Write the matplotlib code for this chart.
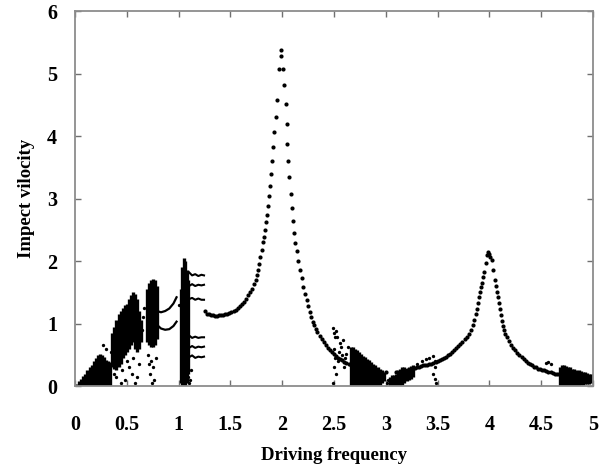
import matplotlib
matplotlib.use('Agg')
import matplotlib.pyplot as plt

# main periodic-response curve (driving frequency, impact velocity)
curve_f = [1.25, 1.27, 1.29, 1.31, 1.33, 1.35, 1.37, 1.39, 1.41, 1.43, 1.45, 1.47, 1.49,
           1.51, 1.53, 1.55, 1.57, 1.59, 1.61, 1.63, 1.65, 1.67, 1.69, 1.71, 1.73, 1.745,
           1.76, 1.77, 1.78, 1.79, 1.80, 1.81, 1.82, 1.83, 1.84, 1.85, 1.86, 1.87, 1.88,
           1.89, 1.90, 1.915, 1.925, 1.94, 1.95, 1.97, 1.99, 1.99,
           2.01, 2.02, 2.04, 2.045, 2.05, 2.055, 2.07, 2.08, 2.09, 2.10, 2.11, 2.125, 2.14,
           2.155, 2.17, 2.19, 2.205, 2.22, 2.235, 2.25, 2.265, 2.28, 2.295, 2.31, 2.325,
           2.34, 2.36, 2.38, 2.40, 2.42, 2.44, 2.46, 2.48, 2.50, 2.52, 2.54, 2.56, 2.58,
           2.60, 2.62, 2.64, 2.66, 2.70, 2.80, 2.90, 3.00, 3.10, 3.20,
           3.28, 3.30, 3.32, 3.34, 3.36, 3.38, 3.40, 3.42, 3.44, 3.46, 3.48, 3.50, 3.52,
           3.54, 3.56, 3.58, 3.60, 3.62, 3.64, 3.66, 3.68, 3.70, 3.72, 3.74, 3.76, 3.78,
           3.80, 3.82, 3.84, 3.855, 3.87, 3.88, 3.89, 3.90, 3.91, 3.92, 3.93, 3.94, 3.95,
           3.965, 3.98, 3.99, 4.00, 4.01, 4.02, 4.035, 4.05, 4.06, 4.07, 4.08, 4.09, 4.10,
           4.11, 4.12, 4.13, 4.14, 4.155, 4.17, 4.19, 4.21, 4.23, 4.25, 4.27, 4.29, 4.31,
           4.33, 4.35, 4.37, 4.39, 4.41, 4.43, 4.45, 4.47, 4.49, 4.51, 4.53, 4.55, 4.57,
           4.59, 4.61, 4.63, 4.65, 4.67, 4.69]
curve_v = [1.20, 1.16, 1.145, 1.135, 1.13, 1.125, 1.125, 1.13, 1.133, 1.14, 1.147, 1.157, 1.17,
           1.183, 1.20, 1.22, 1.247, 1.275, 1.31, 1.35, 1.40, 1.45, 1.50, 1.56, 1.63, 1.70,
           1.78, 1.86, 1.95, 2.06, 2.18, 2.30, 2.39, 2.50, 2.62, 2.74, 2.88, 3.04, 3.20,
           3.39, 3.60, 3.83, 4.07, 4.31, 4.58, 5.08, 5.28, 5.38,
           5.08, 4.82, 4.51, 4.19, 3.88, 3.60, 3.35, 3.07, 2.85, 2.64, 2.45, 2.29, 2.16,
           2.00, 1.86, 1.73, 1.59, 1.48, 1.38, 1.28, 1.19, 1.11, 1.03, 0.97, 0.91,
           0.86, 0.80, 0.75, 0.70, 0.65, 0.61, 0.57, 0.54, 0.51, 0.48, 0.45, 0.43, 0.41,
           0.39, 0.37, 0.35, 0.34, 0.31, 0.27, 0.24, 0.22, 0.23, 0.26,
           0.29, 0.30, 0.31, 0.32, 0.33, 0.335, 0.34, 0.35, 0.36, 0.37, 0.385, 0.40, 0.415,
           0.43, 0.45, 0.47, 0.495, 0.52, 0.545, 0.575, 0.61, 0.64, 0.67, 0.71, 0.75, 0.79,
           0.84, 0.90, 0.98, 1.05, 1.15, 1.24, 1.33, 1.42, 1.50, 1.58, 1.65, 1.74, 1.83,
           1.97, 2.10, 2.15, 2.12, 2.07, 2.02, 1.85, 1.70, 1.60, 1.50, 1.42, 1.33, 1.23,
           1.13, 1.04, 0.96, 0.90, 0.84, 0.78, 0.72, 0.66, 0.61, 0.57, 0.53, 0.49, 0.46,
           0.43, 0.40, 0.37, 0.35, 0.33, 0.31, 0.30, 0.28, 0.27, 0.26, 0.25, 0.24, 0.23,
           0.22, 0.21, 0.20, 0.195, 0.19, 0.18]

# dense (chaotic) bands: frequency, lowest and highest velocity
band_f = [0.02, 0.04, 0.06, 0.08, 0.10, 0.12, 0.14, 0.16, 0.18, 0.20, 0.22, 0.24, 0.26,
          0.28, 0.30, 0.32, 0.34,
          0.36, 0.38, 0.40, 0.42, 0.44, 0.46, 0.48, 0.50, 0.52, 0.54, 0.56, 0.58, 0.60,
          0.62, 0.64,
          0.69, 0.71, 0.73, 0.75, 0.77, 0.79,
          1.02, 1.035, 1.05, 1.065, 1.08, 1.095,
          2.66, 2.68, 2.70, 2.72, 2.74, 2.76, 2.78, 2.80, 2.82, 2.84, 2.86, 2.88, 2.90,
          2.92, 2.94, 2.96, 2.98,
          3.04, 3.06, 3.08, 3.10, 3.12, 3.14, 3.16, 3.18, 3.20, 3.22, 3.24, 3.26,
          4.68, 4.70, 4.72, 4.74, 4.76, 4.78, 4.80, 4.82, 4.84, 4.86, 4.88, 4.90, 4.92,
          4.94, 4.96, 4.98, 5.00]
band_lo = [0.0, 0.0, 0.0, 0.0, 0.0, 0.0, 0.0, 0.0, 0.0, 0.0, 0.0, 0.0, 0.0,
           0.0, 0.0, 0.0, 0.0,
           0.30, 0.28, 0.25, 0.30, 0.35, 0.45, 0.50, 0.55, 0.60, 0.65, 0.70, 0.60, 0.55,
           0.60, 0.70,
           0.70, 0.65, 0.63, 0.62, 0.65, 0.75,
           0.05, 0.0, 0.0, 0.0, 0.05, 0.20,
           0.0, 0.0, 0.0, 0.0, 0.0, 0.0, 0.0, 0.0, 0.0, 0.0, 0.0, 0.0, 0.0,
           0.0, 0.02, 0.05, 0.08,
           0.0, 0.0, 0.0, 0.0, 0.0, 0.0, 0.02, 0.05, 0.08, 0.10, 0.12, 0.15,
           0.0, 0.0, 0.0, 0.0, 0.0, 0.0, 0.0, 0.0, 0.0, 0.0, 0.02, 0.02, 0.03,
           0.03, 0.04, 0.05, 0.05]
band_hi = [0.03, 0.08, 0.12, 0.16, 0.20, 0.25, 0.30, 0.34, 0.40, 0.45, 0.50, 0.52, 0.50,
           0.46, 0.42, 0.40, 0.38,
           0.85, 0.95, 1.05, 1.15, 1.20, 1.25, 1.30, 1.32, 1.40, 1.45, 1.50, 1.48, 1.40,
           1.20, 1.05,
           1.55, 1.65, 1.70, 1.72, 1.70, 1.60,
           1.55, 1.90, 2.05, 2.00, 1.85, 1.70,
           0.62, 0.62, 0.60, 0.57, 0.54, 0.51, 0.48, 0.46, 0.43, 0.41, 0.38, 0.36, 0.34,
           0.31, 0.28, 0.25, 0.22,
           0.15, 0.17, 0.18, 0.20, 0.25, 0.28, 0.30, 0.30, 0.28, 0.30, 0.32, 0.33,
           0.30, 0.33, 0.33, 0.32, 0.31, 0.30, 0.28, 0.27, 0.26, 0.25, 0.24, 0.23, 0.22,
           0.21, 0.20, 0.20, 0.19]

# arcs between the 0.75 and 1.05 columns
arc_f = [0.79, 0.83, 0.87, 0.91, 0.95, 0.98]
arc_upper = [1.20, 1.18, 1.20, 1.24, 1.32, 1.42]
arc_lower = [0.98, 0.92, 0.90, 0.91, 0.96, 1.03]

# branches leaving the column near f = 1.05
branch_f = [1.10, 1.13, 1.16, 1.19, 1.22, 1.245]
branch_1 = [1.82, 1.77, 1.79, 1.76, 1.78, 1.77]
branch_2 = [1.60, 1.63, 1.60, 1.62, 1.61, 1.62]
branch_3 = [1.39, 1.41, 1.38, 1.40, 1.38, 1.38]
branch_4 = [0.81, 0.77, 0.79, 0.77, 0.78, 0.78]
branch_5 = [0.61, 0.64, 0.61, 0.63, 0.62, 0.63]
branch_6 = [0.46, 0.49, 0.45, 0.47, 0.46, 0.47]

# sparse points around the bands
sparse_f = [0.40, 0.45, 0.48, 0.52, 0.55, 0.58, 0.62, 0.60, 0.44, 0.50, 0.56,
            0.70, 0.73, 0.75, 0.72, 0.76, 0.74, 0.78, 0.71, 0.65, 0.66, 0.67,
            0.38, 0.35, 0.30, 0.27,
            1.00, 1.11, 1.12, 1.10, 1.09,
            2.49, 2.50, 2.51, 2.53, 2.56, 2.59, 2.63, 2.50, 2.51, 2.50, 2.52, 2.49,
            2.55, 2.58, 2.60, 2.62, 2.54, 2.52, 2.57, 2.61,
            3.46, 3.47, 3.47, 3.46, 3.47, 3.48, 3.39, 3.35, 3.30, 3.42, 3.01, 3.02,
            4.55, 4.57, 4.59]
sparse_v = [0.15, 0.25, 0.10, 0.30, 0.20, 0.05, 0.35, 0.15, 0.05, 0.40, 0.45,
            0.50, 0.40, 0.30, 0.20, 0.10, 0.05, 0.45, 0.35, 0.90, 1.10, 1.25,
            0.20, 0.55, 0.60, 0.65,
            1.30, 0.10, 0.25, 0.05, 0.15,
            0.93, 0.85, 0.78, 0.79, 0.69, 0.74, 0.63, 0.60, 0.45, 0.30, 0.20, 0.05,
            0.55, 0.50, 0.30, 0.52, 0.40, 0.88, 0.62, 0.45,
            0.48, 0.40, 0.30, 0.20, 0.12, 0.05, 0.44, 0.40, 0.36, 0.45, 0.05, 0.10,
            0.37, 0.38, 0.36]

freq_ticks = [0, 0.5, 1, 1.5, 2, 2.5, 3, 3.5, 4, 4.5, 5]
freq_labels = ['0', '0.5', '1', '1.5', '2', '2.5', '3', '3.5', '4', '4.5', '5']
vel_ticks = [0, 1, 2, 3, 4, 5, 6]

plt.rcParams['font.family'] = ['Liberation Serif', 'DejaVu Serif']

fig = plt.figure(figsize=(6.07, 4.67), dpi=100)
ax = fig.add_axes([0.1236, 0.1734, 0.8534, 0.803])

ax.vlines(band_f, band_lo, band_hi, color='black', linewidth=2.4)
for b in [arc_upper, arc_lower]:
    ax.plot(arc_f, b, '-', color='black', linewidth=1.6)
for b in [branch_1, branch_2, branch_3, branch_4, branch_5, branch_6]:
    ax.plot(branch_f, b, '-', color='black', linewidth=1.5)
ax.plot(sparse_f, sparse_v, 'o', color='black', markersize=2.4, markeredgewidth=0)
ax.plot(curve_f, curve_v, 'o', color='black', markersize=3.0, markeredgewidth=0)

ax.set_xlim(0, 5)
ax.set_ylim(0, 6)
ax.set_xticks(freq_ticks)
ax.set_xticklabels(freq_labels)
ax.set_yticks(vel_ticks)

for s in ax.spines.values():
    s.set_color('#8c8c8c')
    s.set_linewidth(1.3)
ax.tick_params(direction='in', top=True, right=True, length=4, width=1, color='#707070')
ax.tick_params(axis='x', pad=21, labelsize=14.5)
ax.tick_params(axis='y', pad=13, labelsize=14.5)
for lab in ax.get_xticklabels() + ax.get_yticklabels():
    lab.set_fontweight('bold')

ax.set_xlabel('Driving frequency', fontsize=13.5, fontweight='bold')
ax.set_ylabel('Impect vilocity', fontsize=13.5, fontweight='bold')
ax.xaxis.set_label_coords(0.5, -0.163)
ax.yaxis.set_label_coords(-0.077, 0.5)

fig.savefig('out.png', dpi=100)
